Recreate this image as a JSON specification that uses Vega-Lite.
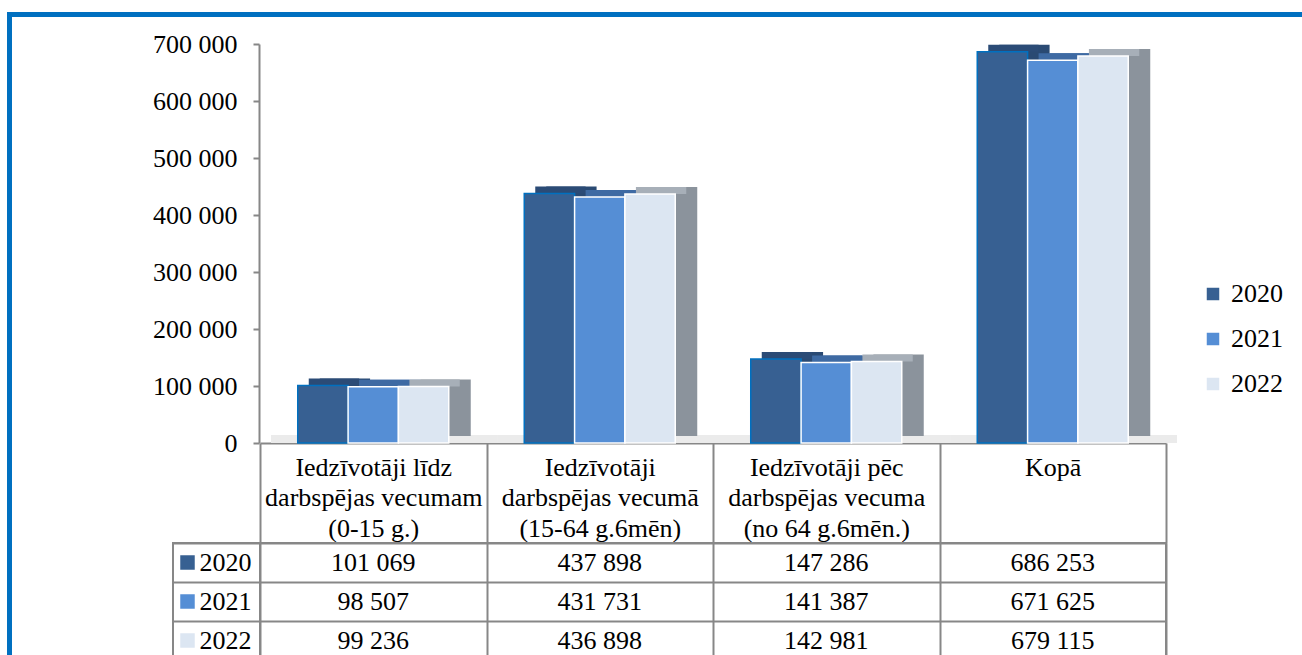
{
  "$schema": "https://vega.github.io/schema/vega-lite/v6.json",
  "padding": {"left": 7, "top": 12, "right": 0, "bottom": 0},
  "background": "white",
  "config": {
    "locale": {"number": {"decimal": ",", "thousands": " ", "grouping": [3], "currency": ["", ""]}},
    "font": "Liberation Serif",
    "view": {"stroke": null}
  },
  "datasets": {
    "d": [
      {"category": "Iedzīvotāji līdz\ndarbspējas vecumam\n(0-15 g.)", "year": "2020", "value": 101069},
      {"category": "Iedzīvotāji\ndarbspējas vecumā\n(15-64 g.6mēn)", "year": "2020", "value": 437898},
      {"category": "Iedzīvotāji pēc\ndarbspējas vecuma\n(no 64 g.6mēn.)", "year": "2020", "value": 147286},
      {"category": "Kopā", "year": "2020", "value": 686253},
      {"category": "Iedzīvotāji līdz\ndarbspējas vecumam\n(0-15 g.)", "year": "2021", "value": 98507},
      {"category": "Iedzīvotāji\ndarbspējas vecumā\n(15-64 g.6mēn)", "year": "2021", "value": 431731},
      {"category": "Iedzīvotāji pēc\ndarbspējas vecuma\n(no 64 g.6mēn.)", "year": "2021", "value": 141387},
      {"category": "Kopā", "year": "2021", "value": 671625},
      {"category": "Iedzīvotāji līdz\ndarbspējas vecumam\n(0-15 g.)", "year": "2022", "value": 99236},
      {"category": "Iedzīvotāji\ndarbspējas vecumā\n(15-64 g.6mēn)", "year": "2022", "value": 436898},
      {"category": "Iedzīvotāji pēc\ndarbspējas vecuma\n(no 64 g.6mēn.)", "year": "2022", "value": 142981},
      {"category": "Kopā", "year": "2022", "value": 679115}
    ]
  },
  "columns": 2,
  "bounds": "flush",
  "spacing": {"row": 100, "column": 0},
  "concat": [
    {
      "width": 87,
      "height": 399,
      "data": {"name": "d"},
      "layer": [
        {
          "mark": {"type": "point", "opacity": 0},
          "encoding": {
            "fill": {
              "field": "value", "type": "quantitative",
              "scale": {"range": ["#0070C0", "#0070C0"]},
              "legend": {"orient": "none", "legendX": -166, "legendY": -32, "direction": "horizontal", "gradientLength": 1400, "gradientThickness": 5, "gradientStrokeWidth": 0, "title": null, "labelExpr": "''"}
            }
          }
        },
        {
          "mark": {"type": "point", "opacity": 0},
          "encoding": {
            "stroke": {
              "field": "value", "type": "quantitative",
              "scale": {"range": ["#0070C0", "#0070C0"]},
              "legend": {"orient": "none", "legendX": -166, "legendY": -32, "direction": "vertical", "gradientLength": 700, "gradientThickness": 5, "gradientStrokeWidth": 0, "title": null, "labelExpr": "''"}
            }
          }
        }
      ]
    },
    {
      "width": 906,
      "height": 399,
      "data": {"name": "d"},
      "encoding": {
        "x": {
          "field": "category", "type": "nominal", "sort": null,
          "scale": {"paddingInner": 0, "paddingOuter": 0},
          "axis": {
            "title": null, "labelExpr": "split(datum.label, '\\n')", "labelAngle": 0,
            "labelFontSize": 26, "labelFont": "Liberation Serif", "labelColor": "black",
            "labelLineHeight": 30.5, "labelBaseline": "top", "labelPadding": -89, "labelLimit": 0,
            "tickBand": "extent", "tickSize": 100, "tickColor": "#878787", "tickWidth": 2,
            "domainColor": "#878787", "domainWidth": 2, "grid": false
          }
        },
        "y": {
          "field": "value", "type": "quantitative",
          "scale": {"domain": [0, 700000], "nice": false},
          "axis": {
            "title": null, "values": [0, 100000, 200000, 300000, 400000, 500000, 600000, 700000],
            "labelExpr": "replace(format(datum.value, ',.0f'), ',', ' ')",
            "labelFontSize": 26, "labelFont": "Liberation Serif", "labelColor": "black",
            "labelPadding": 16, "tickSize": 6, "tickColor": "#878787", "tickWidth": 2,
            "domainColor": "#878787", "domainWidth": 2, "grid": false, "offset": 1
          }
        }
      },
      "layer": [
        {
          "mark": {"type": "bar", "yOffset": -8, "xOffset": 11, "x2Offset": 11, "color": "#EBEBEB"},
          "encoding": {
            "y": {"datum": 0},
            "y2": {"datum": 0}
          }
        },
        {
          "mark": {"type": "bar", "yOffset": -7, "y2Offset": -7},
          "encoding": {
            "xOffset": {"field": "year", "type": "nominal", "scale": {"paddingInner": 0, "paddingOuter": 0.75, "align": 0.7914}},
            "color": {
              "condition": [
                {"test": "datum.year === '2020'", "value": "#2A4A73"},
                {"test": "datum.year === '2021'", "value": "#3D689F"}
              ],
              "value": "#8B939C"
            }
          }
        },
        {
          "mark": {"type": "bar", "yOffset": -7},
          "encoding": {
            "xOffset": {"field": "year", "type": "nominal", "scale": {"paddingInner": 0, "paddingOuter": 0.75, "align": 0.6457}},
            "y2": {"field": "value"},
            "color": {
              "condition": [
                {"test": "datum.year === '2020'", "value": "#2B4B76"},
                {"test": "datum.year === '2021'", "value": "#3E6AA3"}
              ],
              "value": "#A7AFB8"
            }
          }
        },
        {
          "mark": {"type": "bar", "strokeWidth": 1.5},
          "encoding": {
            "xOffset": {"field": "year", "type": "nominal", "scale": {"paddingInner": 0, "paddingOuter": 0.75, "align": 0.5}},
            "color": {
              "field": "year", "type": "nominal",
              "scale": {"domain": ["2020", "2021", "2022"], "range": ["#376092", "#558ED5", "#DCE6F2"]},
              "legend": {
                "orient": "none", "legendX": 1027, "legendY": 237, "title": null,
                "symbolType": "square", "symbolSize": 196, "labelFontSize": 26, "labelFont": "Liberation Serif",
                "labelColor": "black", "rowPadding": 19, "labelOffset": 5
              }
            },
            "stroke": {"condition": {"test": "datum.year === '2020'", "value": "#0070C0"}, "value": "white"}
          }
        }
      ],
      "resolve": {"scale": {"xOffset": "independent"}}
    },
    {
      "width": 87,
      "height": 117,
      "data": {"name": "d"},
      "transform": [{"filter": "datum.category === 'Kopā'"}],
      "view": {"stroke": "#878787", "strokeWidth": 2},
      "encoding": {
        "y": {
          "field": "year", "type": "nominal",
          "scale": {"paddingInner": 0, "paddingOuter": 0},
          "axis": {"title": null, "grid": true, "tickBand": "extent", "gridColor": "#878787", "gridWidth": 2, "labels": false, "ticks": false, "domain": false}
        }
      },
      "layer": [
        {
          "mark": {"type": "point", "shape": "square", "filled": true, "size": 210, "opacity": 1, "xOffset": -29},
          "encoding": {"color": {"field": "year", "type": "nominal"}}
        },
        {
          "mark": {"type": "text", "align": "left", "dx": -17, "fontSize": 26, "font": "Liberation Serif", "color": "black"},
          "encoding": {"text": {"field": "year", "type": "nominal"}}
        }
      ]
    },
    {
      "width": 906,
      "height": 117,
      "data": {"name": "d"},
      "view": {"stroke": "#878787", "strokeWidth": 2},
      "mark": {"type": "text", "fontSize": 26, "font": "Liberation Serif", "color": "black"},
      "encoding": {
        "x": {
          "field": "category", "type": "nominal", "sort": null,
          "scale": {"paddingInner": 0, "paddingOuter": 0},
          "axis": {"title": null, "grid": true, "tickBand": "extent", "gridColor": "#878787", "gridWidth": 2, "labels": false, "ticks": false, "domain": false}
        },
        "y": {
          "field": "year", "type": "nominal",
          "scale": {"paddingInner": 0, "paddingOuter": 0},
          "axis": {"title": null, "grid": true, "tickBand": "extent", "gridColor": "#878787", "gridWidth": 2, "labels": false, "ticks": false, "domain": false}
        },
        "text": {"field": "value", "type": "quantitative", "format": ","}
      }
    }
  ]
}
